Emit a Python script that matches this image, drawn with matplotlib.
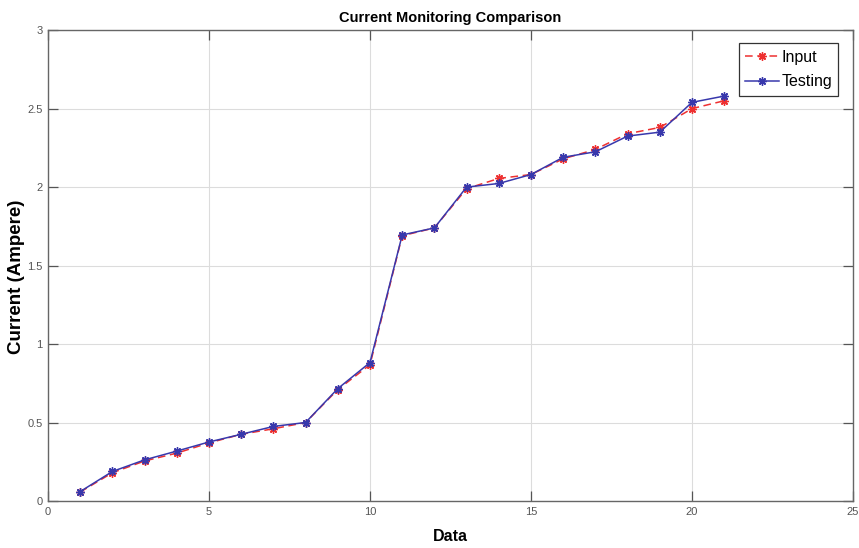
import matplotlib
matplotlib.use('Agg')
import matplotlib.pyplot as plt

data_idx = list(range(1, 22))
input_current = [0.057, 0.18, 0.255, 0.305, 0.37, 0.425, 0.46, 0.50, 0.71, 0.868,
                 1.69, 1.74, 1.99, 2.055, 2.08, 2.18, 2.24, 2.34, 2.38, 2.50, 2.55]
testing_current = [0.06, 0.188, 0.262, 0.318, 0.376, 0.425, 0.475, 0.50, 0.716, 0.882,
                   1.695, 1.74, 2.0, 2.023, 2.08, 2.19, 2.225, 2.325, 2.35, 2.54, 2.58]

x_ticks = [0, 5, 10, 15, 20, 25]
y_ticks = [0, 0.5, 1, 1.5, 2, 2.5, 3]
y_tick_labels = ['0', '0.5', '1', '1.5', '2', '2.5', '3']

plt.rcParams['font.family'] = ['Liberation Sans', 'DejaVu Sans']

fig = plt.figure(figsize=(8.59, 5.48), dpi=100)
ax = fig.add_axes([0.0559, 0.0858, 0.9371, 0.8592])

asterisk = (8, 2, 0)
ax.plot(data_idx, input_current, color='#ee3030', linestyle='--', dashes=(5, 3),
        linewidth=1.1, marker=asterisk, markersize=6, markeredgewidth=1.0,
        label='Input')
ax.plot(data_idx, testing_current, color='#3838ac', linestyle='-',
        linewidth=1.1, marker=asterisk, markersize=6, markeredgewidth=1.0,
        label='Testing')

ax.set_xlim(0, 25)
ax.set_ylim(0, 3)
ax.set_xticks(x_ticks)
ax.set_yticks(y_ticks)
ax.set_yticklabels(y_tick_labels)
ax.grid(True, color='#dcdcdc', linewidth=0.8)
ax.set_axisbelow(True)

ax.tick_params(direction='in', length=7, width=0.9, colors='#555555',
               labelsize=8, top=True, right=True, labelcolor='#555555', pad=4)
for s in ax.spines.values():
    s.set_color('#666666')
    s.set_linewidth(1.0)

ax.set_title('Current Monitoring Comparison', fontsize=10.5, fontweight='bold', pad=6)
ax.set_xlabel('Data', fontsize=11.5, fontweight='bold', labelpad=9)
ax.set_ylabel('Current (Ampere)', fontsize=13.5, fontweight='bold')
ax.yaxis.set_label_coords(-0.029, 0.476)

leg = ax.legend(loc='upper right', bbox_to_anchor=(0.982, 0.972),
                fancybox=False, framealpha=1, edgecolor='#333333',
                handlelength=2.1, handletextpad=0.15, borderpad=0.4,
                labelspacing=0.6, borderaxespad=0.0, prop={'size': 11.5})
leg.get_frame().set_linewidth(0.9)

fig.savefig('out.png', dpi=100)
